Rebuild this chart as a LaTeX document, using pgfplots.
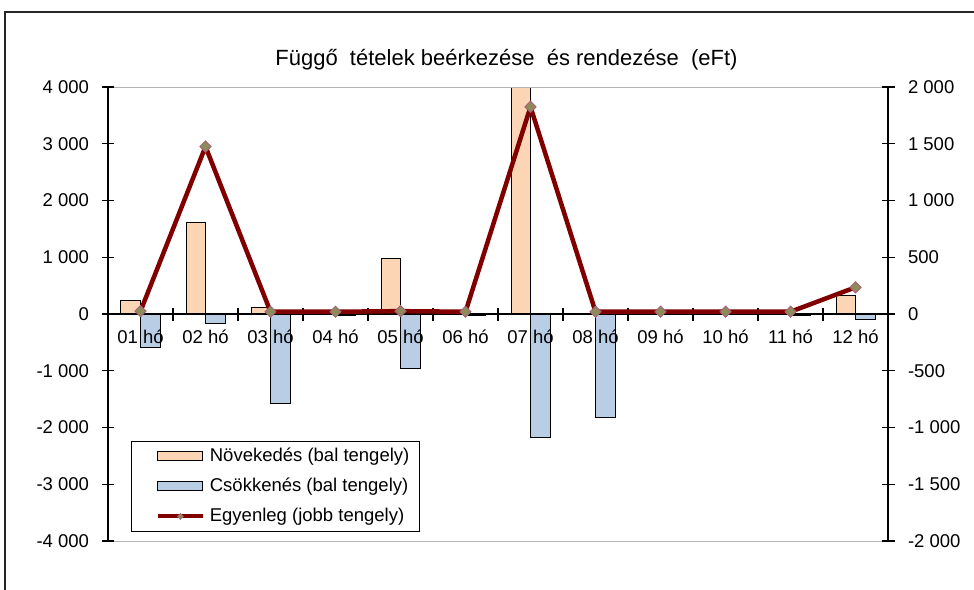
\documentclass[border=0pt]{standalone}
\usepackage{pgfplots}
\pgfplotsset{compat=1.18}
\usepackage{fontspec}
\setmainfont{Liberation Sans}
\definecolor{novfill}{HTML}{FCD5B5}
\definecolor{csofill}{HTML}{B9CDE5}
\definecolor{egyline}{HTML}{800000}
\definecolor{mkfill}{HTML}{8E8A5C}
\definecolor{mkdraw}{HTML}{A65E78}
\pgfplotsset{
  common/.style={
    at={(0pt,0pt)}, anchor=south west,
    scale only axis, width=780pt, height=454pt,
    xmin=0.5, xmax=12.5,
    tick label style={font=\fontsize{18.5}{22}\selectfont, /pgf/number format/assume math mode=true, /pgf/number format/1000 sep={\ }},
    major tick length=13pt, tick align=center,
    axis line style={line width=1.2pt, black},
    tick style={line width=1.2pt, black},
    hide obscured x ticks=false, hide obscured y ticks=false,
  }
}
\begin{document}
\begin{tikzpicture}
\path[use as bounding box] (-108pt,-48pt) rectangle (866pt,541pt);
\draw[line width=1.6pt, black!85] (-103pt,-52pt) -- (-103pt,529pt) -- (870pt,529pt);
\begin{axis}[common,
  ymin=-4000, ymax=4000,
  axis x line*=middle, axis y line*=left,
  axis on top,
  xtick={0.5,1.5,...,12.5}, x tick label as interval,
  xticklabels={01 hó,02 hó,03 hó,04 hó,05 hó,06 hó,07 hó,08 hó,09 hó,10 hó,11 hó,12 hó},
  xticklabel style={yshift=-6pt},
  yticklabel style={xshift=-9pt},
  ytick={-4000,-3000,...,4000},
  clip=false,
]
\addplot[ybar, bar width=19.5pt, bar shift=-9.75pt, fill=novfill, draw=black, line width=1pt] coordinates {
(1,230) (2,1615) (3,110) (4,10) (5,970) (6,10) (7,3990) (8,15) (9,0) (10,0) (11,0) (12,320)};
\addplot[ybar, bar width=19.5pt, bar shift=9.75pt, fill=csofill, draw=black, line width=1pt] coordinates {
(1,-590) (2,-165) (3,-1575) (4,-20) (5,-965) (6,-20) (7,-2180) (8,-1820) (9,0) (10,0) (11,-20) (12,-105)};
\draw[gray!60, line width=1pt] (rel axis cs:0,1) -- (rel axis cs:1,1);
\draw[gray!60, line width=1pt] (rel axis cs:0,0) -- (rel axis cs:1,0);
\end{axis}
\begin{axis}[common,
  ymin=-2000, ymax=2000,
  axis x line=none, axis y line*=right,
  ytick={-2000,-1500,...,2000},
  yticklabel style={xshift=10pt},
  clip=false,
  legend cell align=left,
  legend style={at={(axis description cs:0.0295,0.0198)}, anchor=south west,
    draw=black, line width=1.2pt, fill=white, inner xsep=10pt, inner ysep=6pt,
    font=\fontsize{18.5}{22}\selectfont, row sep=12pt,
    /tikz/every odd column/.append style={column sep=5pt},
    nodes={inner sep=0pt, text height=14pt, text depth=4pt, anchor=west}},
]
\addlegendimage{legend image code/.code={\path (-14pt,0pt); \draw[fill=novfill, draw=black, line width=1pt] (0pt,-4.5pt) rectangle (45pt,4.5pt);}}
\addlegendentry{Növekedés (bal tengely)}
\addlegendimage{legend image code/.code={\path (-14pt,0pt); \draw[fill=csofill, draw=black, line width=1pt] (0pt,-4.5pt) rectangle (45pt,4.5pt);}}
\addlegendentry{Csökkenés (bal tengely)}
\addplot[egyline, line width=4.5pt, mark=square*, mark size=4pt,
  mark options={rotate=45, fill=mkfill, draw=mkdraw, line width=0.8pt},
  legend image code/.code={\path (-14pt,0pt); \draw[egyline, line width=4pt] (0pt,0pt) -- (45pt,0pt);
    \path[fill=mkfill, draw=mkdraw, line width=0.6pt] (22.5pt,3pt) -- (25.5pt,0pt) -- (22.5pt,-3pt) -- (19.5pt,0pt) -- cycle;}]
coordinates {(1,25) (2,1475) (3,20) (4,20) (5,25) (6,20) (7,1825) (8,20) (9,20) (10,20) (11,20) (12,235)};
\addlegendentry{Egyenleg (jobb tengely)}
\end{axis}
\node[anchor=base, font=\fontsize{22}{26}\selectfont] at (398.5pt,475pt) {Függő\ \ tételek beérkezése\ \ és rendezése\ \ (eFt)};
\end{tikzpicture}
\end{document}
